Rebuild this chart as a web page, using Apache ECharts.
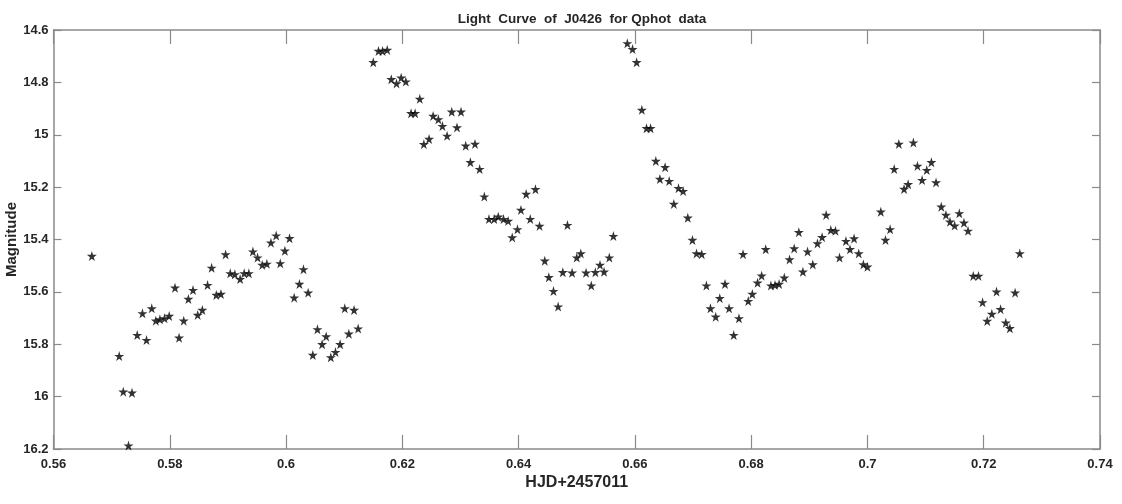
<!DOCTYPE html>
<html>
<head>
<meta charset="utf-8">
<script src="https://cdn.jsdelivr.net/npm/echarts@6/dist/echarts.min.js"></script>
<style>
html,body{margin:0;padding:0;background:#fff;}
#chart{width:1122px;height:504px;}
</style>
</head>
<body>
<div id="chart"></div>
<script>
const titleText = 'Light  Curve  of  J0426  for Qphot  data';
const xAxisName = 'HJD+2457011';
const yAxisName = 'Magnitude';
const xTicks = [0.56, 0.74, 0.02];   // min, max, interval
const yTicks = [14.6, 16.2, 0.2];

const hjd = [
0.5666,0.5713,0.5720,0.5729,0.5735,0.5744,0.5753,0.5760,0.5769,0.5776,
0.5783,0.5791,0.5799,0.5809,0.5816,0.5824,0.5832,0.5840,0.5848,0.5856,
0.5865,0.5872,0.5880,0.5888,0.5896,0.5904,0.5912,0.5921,0.5928,0.5936,
0.5943,0.5951,0.5959,0.5967,0.5974,0.5983,0.5990,0.5998,0.6006,0.6014,
0.6023,0.6030,0.6038,0.6046,0.6054,0.6062,0.6069,0.6077,0.6085,0.6093,
0.6101,0.6108,0.6117,0.6124,0.6150,0.6159,0.6166,0.6174,0.6181,0.6190,
0.6198,0.6206,0.6215,0.6222,0.6230,0.6237,0.6246,0.6253,0.6262,0.6269,
0.6277,0.6285,0.6294,0.6301,0.6309,0.6317,0.6325,0.6333,0.6341,0.6349,
0.6358,0.6365,0.6374,0.6382,0.6389,0.6398,0.6404,0.6413,0.6420,0.6429,
0.6436,0.6445,0.6452,0.6460,0.6468,0.6476,0.6484,0.6492,0.6500,0.6507,
0.6516,0.6525,0.6532,0.6540,0.6547,0.6556,0.6563,0.6587,0.6596,0.6603,
0.6612,0.6620,0.6627,0.6636,0.6643,0.6652,0.6659,0.6667,0.6675,0.6683,
0.6691,0.6699,0.6706,0.6715,0.6723,0.6730,0.6739,0.6746,0.6755,0.6762,
0.6770,0.6779,0.6786,0.6795,0.6802,0.6811,0.6818,0.6825,0.6834,0.6841,
0.6848,0.6857,0.6866,0.6874,0.6882,0.6889,0.6897,0.6906,0.6914,0.6922,
0.6929,0.6937,0.6945,0.6952,0.6963,0.6970,0.6977,0.6985,0.6993,0.7000,
0.7023,0.7031,0.7039,0.7046,0.7054,0.7063,0.7070,0.7079,0.7086,0.7094,
0.7102,0.7110,0.7118,0.7127,0.7135,0.7142,0.7150,0.7158,0.7166,0.7173,
0.7182,0.7191,0.7198,0.7206,0.7214,0.7222,0.7229,0.7238,0.7245,0.7254,
0.7262
];

const mag = [
15.463,15.845,15.981,16.187,15.985,15.765,15.682,15.784,15.663,15.710,
15.705,15.701,15.692,15.584,15.775,15.710,15.627,15.593,15.688,15.669,
15.574,15.508,15.612,15.608,15.457,15.529,15.533,15.551,15.529,15.529,
15.446,15.469,15.497,15.493,15.412,15.385,15.491,15.443,15.395,15.622,
15.570,15.514,15.603,15.841,15.743,15.800,15.770,15.850,15.830,15.800,
15.663,15.760,15.669,15.740,14.723,14.680,14.680,14.676,14.788,14.804,
14.782,14.797,14.918,14.918,14.863,15.036,15.016,14.928,14.941,14.967,
15.004,14.912,14.972,14.912,15.042,15.105,15.035,15.131,15.236,15.322,
15.322,15.313,15.322,15.329,15.392,15.361,15.287,15.226,15.322,15.208,
15.348,15.481,15.544,15.597,15.656,15.525,15.345,15.527,15.469,15.453,
15.527,15.576,15.525,15.497,15.523,15.469,15.387,14.651,14.673,14.723,
14.905,14.975,14.975,15.100,15.169,15.124,15.177,15.264,15.204,15.215,
15.317,15.402,15.453,15.456,15.576,15.663,15.695,15.624,15.570,15.663,
15.765,15.701,15.456,15.635,15.608,15.565,15.538,15.437,15.576,15.574,
15.570,15.546,15.476,15.434,15.372,15.523,15.446,15.495,15.415,15.391,
15.306,15.364,15.367,15.469,15.406,15.437,15.396,15.453,15.495,15.504,
15.294,15.402,15.361,15.131,15.035,15.207,15.189,15.030,15.119,15.173,
15.135,15.105,15.182,15.275,15.306,15.332,15.347,15.300,15.336,15.367,
15.539,15.539,15.640,15.711,15.684,15.599,15.666,15.718,15.739,15.603,
15.453
];

const points = hjd.map((x, i) => [x, mag[i]]);

const STAR = 'path://M50,0 L61,35 L98,35 L68,57 L79,91 L50,70 L21,91 L32,57 L2,35 L39,35 Z';
const FONT = '"Liberation Sans Narrow","Liberation Sans",Arial,sans-serif';
const axisCol = '#8a8a8a';
const labelCol = '#262626';

const chart = echarts.init(document.getElementById('chart'), null, {renderer: 'canvas'});

function xAx(pos, show) {
  return {
    type: 'value', position: pos, min: xTicks[0], max: xTicks[1], interval: xTicks[2],
    axisLine: {show: true, onZero: false, lineStyle: {color: axisCol, width: 1.5}},
    axisTick: {show: true, inside: true, length: 14, lineStyle: {color: axisCol, width: 1.2}},
    axisLabel: {show: show, color: labelCol, fontFamily: FONT, fontSize: 13, fontWeight: 'bold', margin: 9},
    splitLine: {show: false}
  };
}
function yAx(pos, show) {
  return {
    type: 'value', position: pos, inverse: true, min: yTicks[0], max: yTicks[1], interval: yTicks[2],
    axisLine: {show: true, onZero: false, lineStyle: {color: axisCol, width: 1.5}},
    axisTick: {show: true, inside: true, length: 8, lineStyle: {color: axisCol, width: 1.2}},
    axisLabel: {show: show, color: labelCol, fontFamily: FONT, fontSize: 13, fontWeight: 'bold', margin: 5},
    splitLine: {show: false}
  };
}

const xa = xAx('bottom', true);
xa.name = xAxisName; xa.nameLocation = 'middle'; xa.nameGap = 26; xa.nameMoveOverlap = false;
xa.nameTextStyle = {color: labelCol, fontFamily: FONT, fontSize: 16, fontWeight: 'bold'};
const ya = yAx('left', true);
ya.name = yAxisName; ya.nameLocation = 'middle'; ya.nameGap = 34; ya.nameMoveOverlap = false;
ya.nameTextStyle = {color: labelCol, fontFamily: '"Liberation Sans",Arial,sans-serif', fontSize: 15, fontWeight: 'bold'};

chart.setOption({
  animation: false,
  backgroundColor: '#ffffff',
  title: {
    text: titleText, left: 577, top: 7, textAlign: 'center',
    textStyle: {color: labelCol, fontFamily: FONT, fontSize: 13.5, fontWeight: 'bold'}
  },
  grid: {left: 53.5, right: 22, top: 30, bottom: 55, containLabel: false, outerBoundsMode: 'none'},
  xAxis: [xa, xAx('top', false)],
  yAxis: [ya, yAx('right', false)],
  series: [{
    type: 'scatter',
    xAxisIndex: 0, yAxisIndex: 0,
    data: points,
    symbol: STAR,
    symbolSize: 10,
    itemStyle: {color: '#000000'}
  }]
});
</script>
</body>
</html>
